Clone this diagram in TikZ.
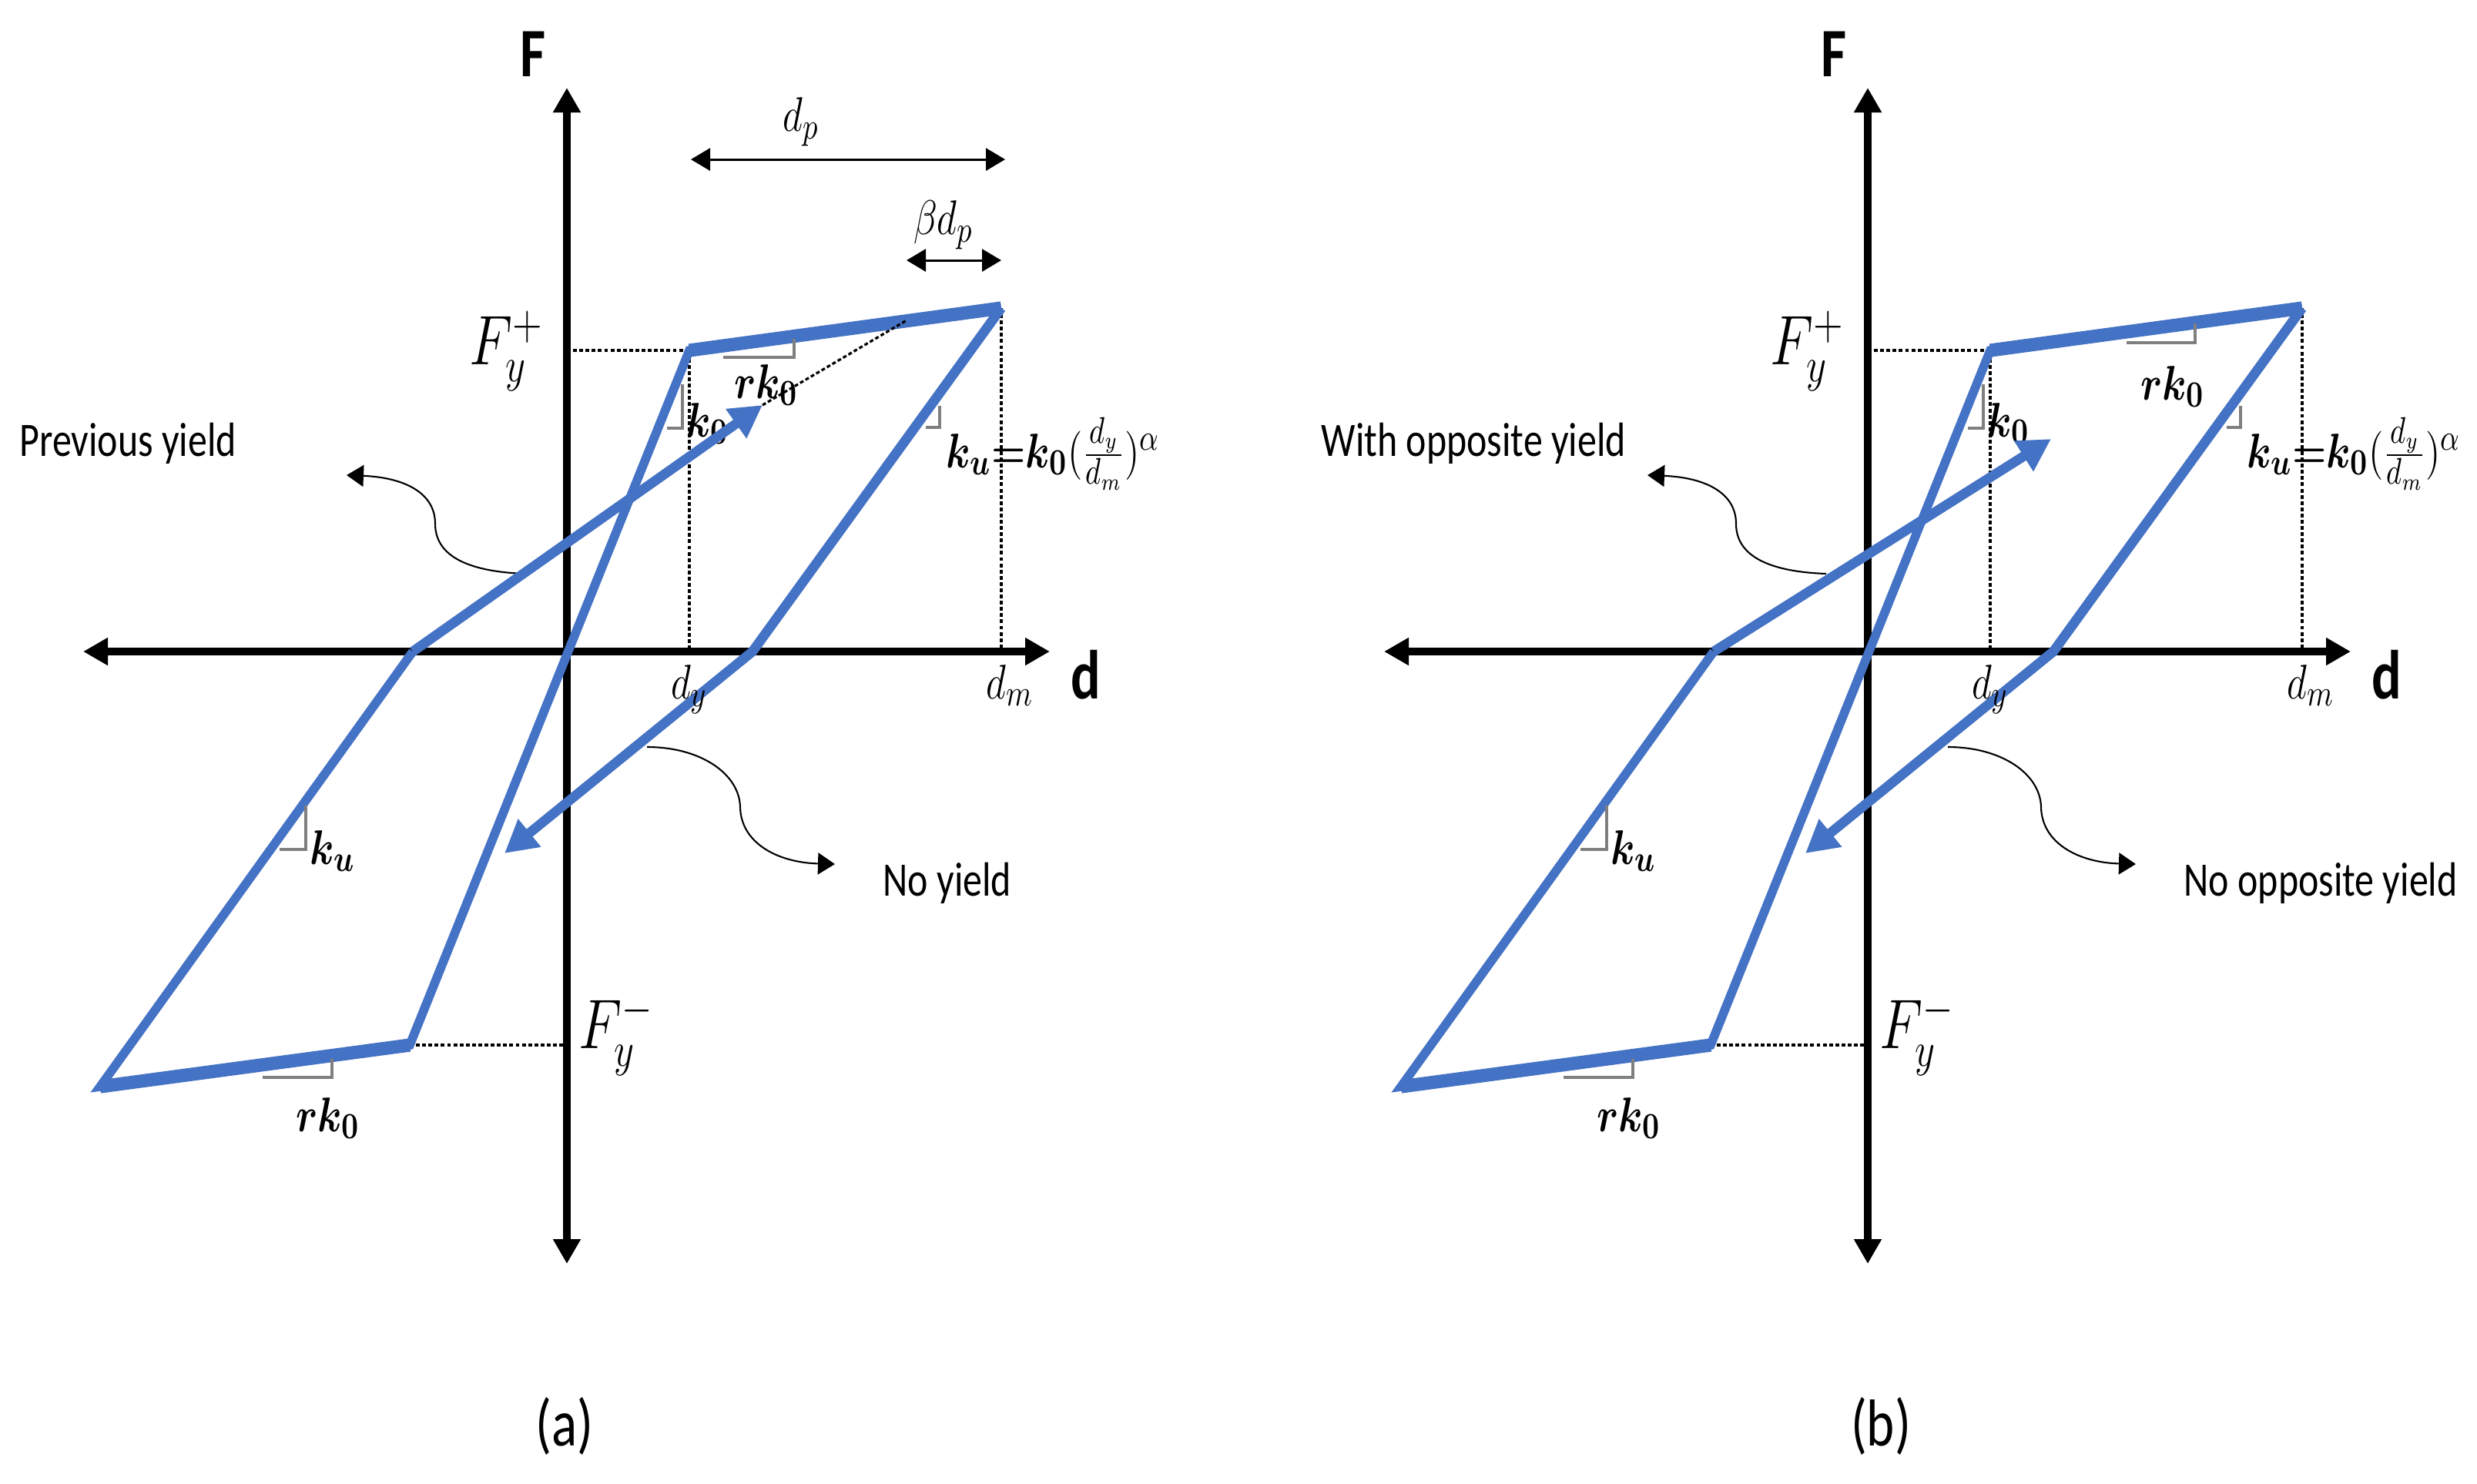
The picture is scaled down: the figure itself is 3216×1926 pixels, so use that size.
\documentclass[tikz,border=0pt]{standalone}
\usepackage{fontspec}
\usepackage{bm}
\usepackage{graphicx}
\usetikzlibrary{arrows.meta}
\newfontfamily\calib{Carlito}
\definecolor{cblue}{HTML}{4472C4}
\definecolor{cgray}{HTML}{7F7F7F}
\newcommand{\st}[1]{\scalebox{1}[1.25]{#1}}
\tikzset{
  axisline/.style={line width=2.7pt, {Triangle[length=0.32cm,width=0.34cm]}-{Triangle[length=0.32cm,width=0.34cm]}},
  guide/.style={line width=0.9pt, dash pattern=on 1.4pt off 0.9pt},
  thinblue/.style={cblue, line width=3.3pt, line join=miter},
  thickblue/.style={cblue, line width=4.9pt},
  arrblue/.style={cblue, line width=3.6pt, line join=miter, -{Triangle[length=0.42cm,width=0.44cm]}},
  slopemark/.style={cgray, line width=0.9pt},
  dimarrow/.style={line width=0.85pt, {Triangle[length=0.25cm,width=0.29cm]}-{Triangle[length=0.25cm,width=0.29cm]}},
  callout/.style={line width=0.6pt, -{Triangle[length=0.22cm,width=0.28cm]}},
  txt/.style={font=\calib\fontsize{14.2}{17}\selectfont, inner sep=0pt},
  axlab/.style={font=\calib\bfseries\fontsize{20.5}{24}\selectfont, inner sep=0pt},
  captext/.style={font=\calib\fontsize{19.6}{23}\selectfont, inner sep=0pt},
  mlab/.style={font=\fontsize{15}{18}\selectfont, inner sep=0pt},
  flab/.style={font=\fontsize{20}{24}\selectfont, inner sep=0pt},
}
\newcommand{\panel}[2]{%
\begin{scope}[xshift=#2]
\coordinate (#1O) at (736,846);
\coordinate (#1A) at (895,455);
\coordinate (#1B) at (1300,400);
\coordinate (#1R) at (977,846);
\coordinate (#1Lt) at (655,1108);
\coordinate (#1C) at (536,846);
\coordinate (#1D) at (130,1411);
\coordinate (#1E) at (532,1357);
\coordinate (#1xl) at (108,846);
\coordinate (#1xr) at (1363,846);
\coordinate (#1yt) at (736,114);
\coordinate (#1yb) at (736,1641);
\coordinate (#1Ay) at (736,455);
\coordinate (#1Ey) at (736,1357);
\coordinate (#1Ax) at (895,846);
\coordinate (#1Bx) at (1300,846);
\draw[axisline] (#1xl) -- (#1xr);
\draw[axisline] (#1yb) -- (#1yt);
\draw[guide] (#1Ay) -- (#1A) -- (#1Ax);
\draw[guide] (#1B) -- (#1Bx);
\draw[guide] (#1E) -- (#1Ey);
\draw[thinblue] (#1C) -- (#1D) -- (#1E) -- (#1A) -- (#1B);
\draw[thickblue] (#1D) -- (#1E);
\draw[thickblue] (#1A) -- (#1B);
\draw[arrblue] (#1B) -- (#1R) -- (#1Lt);
\draw[slopemark] (886,499) -- (886,556) -- (866,556);
\draw[slopemark] (1220,527) -- (1220,555) -- (1202,555);
\draw[slopemark] (397,1046) -- (397,1103) -- (363,1103);
\draw[slopemark] (341,1399) -- (431,1399) -- (431,1375);
\coordinate (#1pyS) at (682,745);
\coordinate (#1pyE) at (450,617);
\draw[callout] (#1pyS) .. controls (600,742) and (565,718) .. (565,680) .. controls (565,640) and (525,620) .. (#1pyE);
\coordinate (#1nyS) at (840,970);
\coordinate (#1nyE) at (1084,1122);
\draw[callout] (#1nyS) .. controls (910,970) and (960,1005) .. (961,1048) .. controls (962,1095) and (1010,1120) .. (#1nyE);
\node[axlab] (#1Fl) at (692,70) {\st{F}};
\node[axlab] (#1dl) at (1410,876) {\st{d}};
\node[flab] (#1Fp) at (658,456) {\st{$F_y^+$}};
\node[flab] (#1Fm) at (800,1344) {\st{$F_y^-$}};
\node[mlab] (#1dy) at (895,895) {\st{$d_y$}};
\node[mlab] (#1dm) at (1311,890) {\st{$d_m$}};
\node[mlab] (#1k0) at (919,550) {\st{$\bm{k_0}$}};
\node[mlab, anchor=base west] (#1ku) at (1228,607) {\st{$\bm{k_u}{\bm{=}}\bm{k_0}(\frac{d_y}{d_m})^{\alpha}$}};
\node[mlab] (#1kul) at (432,1105) {\st{$\bm{k_u}$}};
\node[mlab] (#1rkb) at (426,1452) {\st{$\bm{rk_0}$}};
\end{scope}}

\begin{document}
\begin{tikzpicture}[x=0.01cm, y=-0.01cm]
\useasboundingbox (0,0) rectangle (3216,1926);
\panel{a}{0cm}
\panel{b}{16.88cm}
% ---- panel (a) specifics
\coordinate (aUt) at (990,526);
\coordinate (aDe) at (1177,416);
\draw[guide] (aUt) -- (aDe);
\draw[arrblue] (aC) -- (aUt);
\draw[slopemark] (939,464) -- (1031,464) -- (1031,440);
\node[mlab] (ark) at (995,500) {\st{$\bm{rk_0}$}};
\coordinate (adpL) at (897,207);
\coordinate (adpR) at (1305,207);
\draw[dimarrow] (adpL) -- (adpR);
\node[mlab] (adp) at (1040,158) {\st{$d_p$}};
\coordinate (abpL) at (1177,338);
\coordinate (abpR) at (1300,338);
\draw[dimarrow] (abpL) -- (abpR);
\node[mlab] (abp) at (1225,292) {\st{$\beta d_p$}};
\node[txt, anchor=base west] (aPY) at (25,592) {\st{Previous yield}};
\node[txt, anchor=base west] (aNY) at (1146,1163) {\st{No yield}};
\node[captext] (acap) at (733,1852) {\st{(a)}};
% ---- panel (b) specifics
\begin{scope}[xshift=16.88cm]
\coordinate (bUt) at (974,570);
\draw[arrblue] (bC) -- (bUt);
\draw[slopemark] (1072,445) -- (1161,445) -- (1161,420);
\node[mlab] (brk) at (1132,502) {\st{$\bm{rk_0}$}};
\node[txt, anchor=base west] (bPY) at (26,592) {\st{With opposite yield}};
\node[txt, anchor=base west] (bNY) at (1146,1163) {\st{No opposite yield}};
\node[captext] (bcap) at (753,1852) {\st{(b)}};
\end{scope}
\end{tikzpicture}
\end{document}
